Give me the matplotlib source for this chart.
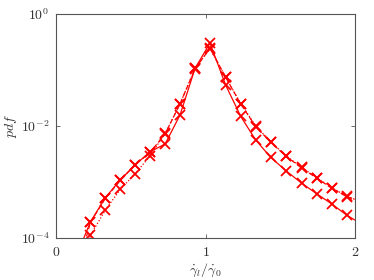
import matplotlib
matplotlib.use("Agg")
import matplotlib.pyplot as plt
import numpy as np

plt.rcParams['mathtext.fontset'] = 'cm'
plt.rcParams['font.family'] = 'DejaVu Serif'

# marker positions (bin centres)
x_mark = [0.23, 0.33, 0.43, 0.53, 0.63, 0.73, 0.83, 0.93, 1.03, 1.135,
          1.236, 1.336, 1.436, 1.539, 1.643, 1.744, 1.844, 1.944]

# log10(pdf) values
solid_log = [-3.71, -3.28, -2.96, -2.69, -2.46, -2.32, -1.80, -0.97, -0.52, -1.27,
             -1.83, -2.25, -2.56, -2.80, -3.02, -3.21, -3.39, -3.59]
dashed_log = [-3.72, -3.29, -2.97, -2.69, -2.47, -2.14, -1.60, -0.98, -0.61, -1.13,
              -1.61, -2.01, -2.29, -2.54, -2.75, -2.93, -3.11, -3.26]
dotted_log = [-3.95, -3.50, -3.13, -2.85, -2.53, -2.13, -1.60, -0.97, -0.62, -1.13,
              -1.60, -2.00, -2.28, -2.53, -2.74, -2.92, -3.10, -3.25]

# line end points (beyond marker range)
solid_ends_x = [0.178, 2.0]
solid_ends_log = [-4.05, -3.68]
dashed_ends_x = [0.19, 2.0]
dashed_ends_log = [-4.1, -3.31]
dotted_ends_x = [0.215, 2.0]
dotted_ends_log = [-4.1, -3.31]

fig = plt.figure(figsize=(3.74, 2.80), dpi=100)
ax = fig.add_axes([0.150, 0.150, 0.799, 0.800])

red = '#ff0000'

def full(xm, ym, ex, ey):
    xs = [ex[0]] + list(xm) + [ex[1]]
    ys = [ey[0]] + list(ym) + [ey[1]]
    return np.array(xs), 10.0 ** np.array(ys)

for ym, ex, ey, ls in [(solid_log, solid_ends_x, solid_ends_log, '-'),
                       (dashed_log, dashed_ends_x, dashed_ends_log, (0, (4, 2))),
                       (dotted_log, dotted_ends_x, dotted_ends_log, (0, (1, 1.5)))]:
    xs, ys = full(x_mark, ym, ex, ey)
    ax.plot(xs, ys, color=red, lw=0.9, linestyle=ls)
    ax.plot(x_mark, 10.0 ** np.array(ym), linestyle='none', marker='x',
            markersize=7, markeredgewidth=1.3, color=red)

ax.set_yscale('log')
ax.set_xlim(0, 2)
ax.set_ylim(1e-4, 1)
ax.set_xticks([0, 1, 2])
ax.set_xticklabels(['$0$', '$1$', '$2$'])
ax.set_yticks([1e-4, 1e-2, 1])
ax.set_yticklabels([r'$10^{-4}$', r'$10^{-2}$', r'$10^{0}$'])
ax.yaxis.set_minor_locator(matplotlib.ticker.NullLocator())
ax.tick_params(direction='in', length=3, width=0.6, colors='#555555',
               labelcolor='#333333', labelsize=10, top=True, right=True, pad=5)
for s in ax.spines.values():
    s.set_color('#555555')
    s.set_linewidth(0.8)

ax.set_xlabel(r'$\dot{\gamma}_l/\dot{\gamma}_0$', fontsize=10, color='#333333', labelpad=2)
ax.set_ylabel(r'$pdf$', fontsize=10, color='#333333', labelpad=1)

fig.savefig('out.png', dpi=100)
